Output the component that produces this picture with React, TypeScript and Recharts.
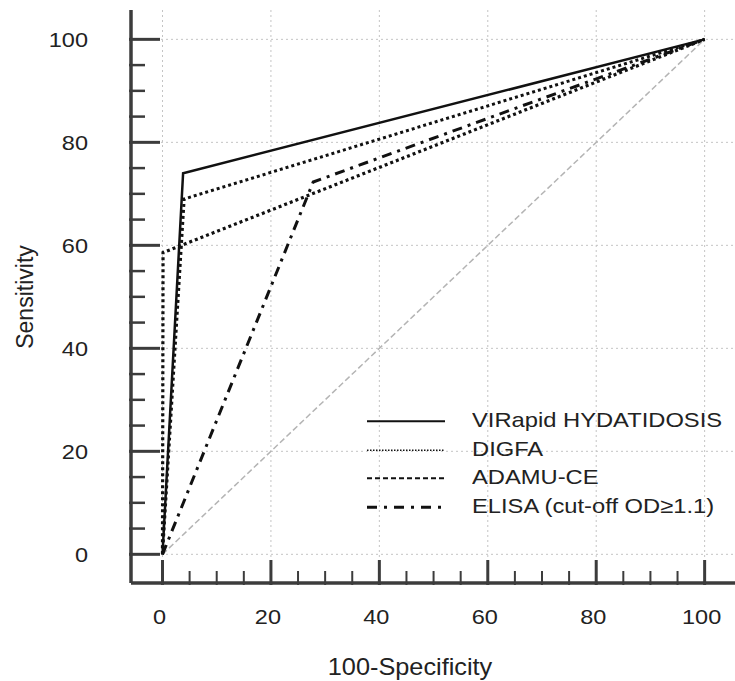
import { LineChart, Line, XAxis, YAxis, CartesianGrid, Legend } from 'recharts';

// ROC curves (x = 100-specificity, y = sensitivity)
const VIRAPID_X = [0, 3.8, 100];
const VIRAPID_Y = [0, 74, 100];
const DIGFA_X = [0, 4, 100];
const DIGFA_Y = [0, 69, 100];
const ADAMU_X = [0, 0.1, 100];
const ADAMU_Y = [0, 58.6, 100];
const ELISA_X = [0, 27.8, 100];
const ELISA_Y = [0, 72.3, 100];
const DIAG_X = [0, 100];
const DIAG_Y = [0, 100];

const TICKS = [0, 5, 10, 15, 20, 25, 30, 35, 40, 45, 50, 55, 60, 65, 70, 75, 80, 85, 90, 95, 100];
const GRID = [0, 20, 40, 60, 80, 100];

const toPoints = (xs: number[], ys: number[]) => xs.map((x, i) => ({ x, y: ys[i] }));

const series = [
  { name: 'VIRapid HYDATIDOSIS', data: toPoints(VIRAPID_X, VIRAPID_Y), dash: undefined, width: 2.5, legendDash: undefined, legendWidth: 2 },
  { name: 'DIGFA', data: toPoints(DIGFA_X, DIGFA_Y), dash: '3 3', width: 3, legendDash: '1.5 1.5', legendWidth: 1.5 },
  { name: 'ADAMU-CE', data: toPoints(ADAMU_X, ADAMU_Y), dash: '3 3', width: 3.2, legendDash: '5 3', legendWidth: 2 },
  { name: 'ELISA (cut-off OD\u22651.1)', data: toPoints(ELISA_X, ELISA_Y), dash: '10 6 3 6', width: 3, legendDash: '10 7 3 7', legendWidth: 3 },
];

const AXIS_COLOR = '#3c3c3c';
const FONT = '"Liberation Sans", Arial, sans-serif';

function XTick(props: any) {
  const { x, y, payload } = props;
  const v = payload.value;
  const major = v % 20 === 0;
  return (
    <g>
      <line x1={x} x2={x} y1={y} y2={y - (major ? 25 : 14)} stroke={AXIS_COLOR} strokeWidth={major ? 3 : 2} />
      {major && (
        <text transform={`translate(${x - 3},${y + 39}) scale(1.12,1)`} textAnchor="middle" fontSize={21} fill="#222" fontFamily={FONT}>
          {v}
        </text>
      )}
    </g>
  );
}

function YTick(props: any) {
  const { x, y, payload } = props;
  const v = payload.value;
  const major = v % 20 === 0;
  return (
    <g>
      <line x1={x} x2={x + (major ? 31 : 16)} y1={y} y2={y} stroke={AXIS_COLOR} strokeWidth={major ? 3 : 2.5} />
      {major && (
        <text transform={`translate(${x - 41},${y + 7.5}) scale(1.12,1)`} textAnchor="end" fontSize={21} fill="#222" fontFamily={FONT}>
          {v}
        </text>
      )}
    </g>
  );
}

function LegendBox() {
  return (
    <div style={{ fontFamily: FONT, fontSize: 21, color: '#222' }}>
      {series.map((s) => (
        <div key={s.name} style={{ display: 'flex', alignItems: 'center', height: 28.7, whiteSpace: 'nowrap' }}>
          <svg width={110} height={28.7} style={{ flexShrink: 0 }}>
            <line x1={5} x2={83} y1={14.3} y2={14.3} stroke="#111" strokeWidth={s.legendWidth} strokeDasharray={s.legendDash} />
          </svg>
          <span style={{ display: 'inline-block', transform: 'scaleX(1.13)', transformOrigin: 'left center', marginTop: -3 }}>{s.name}</span>
        </div>
      ))}
    </div>
  );
}

export default function App() {
  return (
    <div style={{ position: 'absolute', left: 0, top: 0, background: '#fff' }}>
      <LineChart width={735} height={681} margin={{ top: 10, right: 0, bottom: 0, left: 0 }}>
        <CartesianGrid
          stroke="#c4c4c4"
          strokeDasharray="2 3"
          horizontalValues={GRID}
          verticalValues={GRID}
        />
        <XAxis
          type="number"
          dataKey="x"
          domain={[-5.81, 105.6]}
          allowDataOverflow
          ticks={TICKS}
          interval={0}
          height={98}
          tickSize={0}
          tickLine={false}
          tick={<XTick />}
          axisLine={{ stroke: AXIS_COLOR, strokeWidth: 3.5 }}
        />
        <YAxis
          type="number"
          dataKey="y"
          domain={[-5.57, 105.7]}
          allowDataOverflow
          ticks={TICKS}
          interval={0}
          width={131}
          tickSize={0}
          tickLine={false}
          tick={<YTick />}
          axisLine={{ stroke: AXIS_COLOR, strokeWidth: 3.5 }}
        />
        <Line
          data={toPoints(DIAG_X, DIAG_Y)}
          dataKey="y"
          type="linear"
          stroke="#b4b4b4"
          strokeWidth={1.5}
          strokeDasharray="6 3"
          dot={false}
          legendType="none"
          isAnimationActive={false}
        />
        {series.map((s) => (
          <Line
            key={s.name}
            name={s.name}
            data={s.data}
            dataKey="y"
            type="linear"
            stroke="#111"
            strokeWidth={s.width}
            strokeDasharray={s.dash}
            dot={false}
            isAnimationActive={false}
          />
        ))}
        <Legend
          layout="vertical"
          align="center"
          verticalAlign="middle"
          content={<LegendBox />}
          wrapperStyle={{ position: 'absolute', left: 362, top: 407, width: 373 }}
        />
        <text transform="translate(410,675) scale(1.1,1)" textAnchor="middle" fontSize={23} fill="#222" fontFamily={FONT}>
          100-Specificity
        </text>
        <text transform="translate(33,297) rotate(-90)" textAnchor="middle" fontSize={23} fill="#222" fontFamily={FONT}>
          Sensitivity
        </text>
      </LineChart>
    </div>
  );
}
